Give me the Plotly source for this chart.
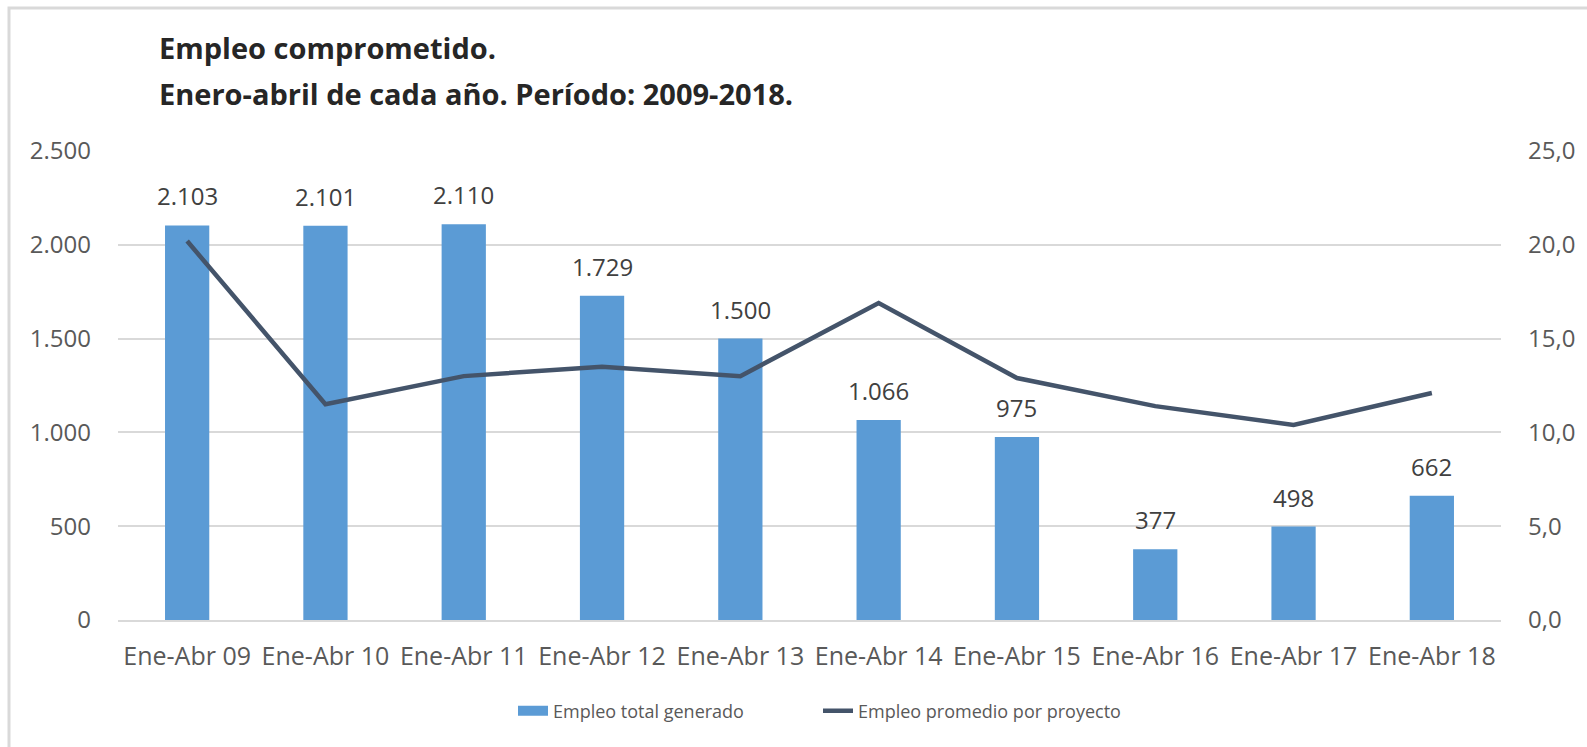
import plotly.graph_objects as go

categories = ["Ene-Abr 09", "Ene-Abr 10", "Ene-Abr 11", "Ene-Abr 12", "Ene-Abr 13",
              "Ene-Abr 14", "Ene-Abr 15", "Ene-Abr 16", "Ene-Abr 17", "Ene-Abr 18"]
empleo_total = [2103, 2101, 2110, 1729, 1500, 1066, 975, 377, 498, 662]
empleo_promedio = [20.2, 11.5, 13.0, 13.5, 13.0, 16.9, 12.9, 11.4, 10.4, 12.1]
left_ticks = [0, 500, 1000, 1500, 2000, 2500]
right_ticks = [0, 5, 10, 15, 20, 25]
title_lines = ["Empleo comprometido.", "Enero-abril de cada año. Período: 2009-2018."]
series_names = ["Empleo total generado", "Empleo promedio por proyecto"]

W, H = 1587, 747
L, R, T, B = 118, 86, 151, 127
pw, ph = W - L - R, H - T - B

def px_x(p):
    return (p - L) / pw

def px_y(p):
    return (H - B - p) / ph

tick_font = dict(family="Open Sans", size=24, color="#595959")
legend_font = dict(family="Open Sans", size=18, color="#595959")

fig = go.Figure()
fig.add_trace(go.Bar(
    x=categories, y=empleo_total, name=series_names[0],
    marker=dict(color="#5B9BD5", line=dict(width=0)),
    yaxis="y", legendgroup="total", showlegend=False,
))
# legend entry for the bars (wide swatch like the original)
fig.add_trace(go.Scatter(
    x=[None], y=[None], name=series_names[0], mode="lines",
    line=dict(color="#5B9BD5", width=10), legendgroup="total", showlegend=True,
    hoverinfo="skip", legend="legend",
))
fig.add_trace(go.Scatter(
    x=categories, y=empleo_promedio, name=series_names[1],
    mode="lines", line=dict(color="#44546A", width=4.5),
    yaxis="y2", legend="legend2",
))

annotations = []
for c, v in zip(categories, empleo_total):
    annotations.append(dict(
        x=c, y=v, xref="x", yref="y", text=f"{v:,}".replace(",", "."),
        showarrow=False, yanchor="bottom", yshift=11,
        font=dict(family="Open Sans", size=24, color="#404040"),
    ))
for t, ypix in zip(title_lines, [48, 93]):
    annotations.append(dict(
        x=px_x(157), y=px_y(ypix), xref="paper", yref="paper", text=f"<b>{t}</b>",
        showarrow=False, xanchor="left", yanchor="middle",
        font=dict(family="Open Sans", size=29, color="#262626"),
    ))

fig.update_layout(
    width=W, height=H,
    margin=dict(l=L, r=R, t=T, b=B),
    paper_bgcolor="white", plot_bgcolor="white",
    separators=",.",
    bargap=0.68,
    showlegend=True,
    legend=dict(
        orientation="h", x=px_x(513), xanchor="left", y=px_y(711), yanchor="middle",
        font=legend_font,
    ),
    legend2=dict(
        orientation="h", x=px_x(818), xanchor="left", y=px_y(711), yanchor="middle",
        font=legend_font,
    ),
    xaxis=dict(
        showgrid=False, showline=True, linecolor="#d9d9d9", linewidth=1.5,
        ticks="", tickfont=dict(family="Open Sans", size=25, color="#595959"),
        ticklabelstandoff=13,
    ),
    yaxis=dict(
        range=[0, 2500], tickvals=left_ticks, tickformat=",.0f",
        showgrid=True, gridcolor="#d9d9d9", gridwidth=1.5,
        zeroline=False, showline=False, ticks="", tickfont=tick_font,
        ticklabelstandoff=26,
    ),
    yaxis2=dict(
        range=[0, 25], tickvals=right_ticks, tickformat=",.1f",
        overlaying="y", side="right", showgrid=False, zeroline=False,
        showline=False, ticks="", tickfont=tick_font, ticklabelstandoff=26,
    ),
    annotations=annotations,
    shapes=[dict(
        type="rect", xref="paper", yref="paper",
        x0=px_x(9), x1=px_x(W + 20), y0=px_y(H + 20), y1=px_y(8),
        line=dict(color="#d9d9d9", width=3), fillcolor="rgba(0,0,0,0)", layer="below",
    )],
)

fig.write_html(
    "out.html",
    config={"displayModeBar": False},
    post_script="document.body.style.margin='0';document.body.style.overflow='hidden';",
)
